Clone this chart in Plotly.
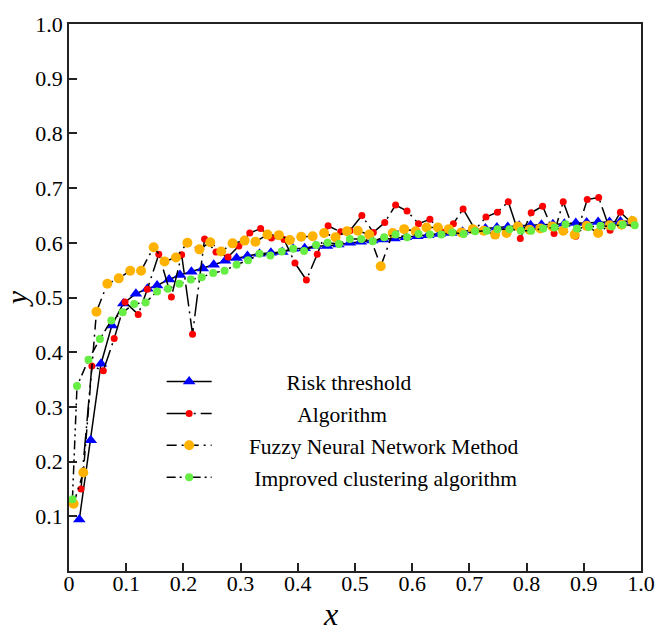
import plotly.graph_objects as go

# ---------------- data ----------------
risk_x = [0.018, 0.038, 0.056, 0.075, 0.095, 0.117, 0.137, 0.154, 0.175, 0.194,
          0.214, 0.234, 0.253, 0.273, 0.293, 0.312, 0.333, 0.353, 0.373, 0.392,
          0.412, 0.431, 0.451, 0.471, 0.491, 0.510, 0.530, 0.549, 0.569, 0.589,
          0.609, 0.628, 0.648, 0.668, 0.688, 0.708, 0.728, 0.748, 0.767, 0.787,
          0.807, 0.826, 0.846, 0.866, 0.886, 0.905, 0.925, 0.945, 0.964, 0.984]
risk_y = [0.094, 0.239, 0.379, 0.449, 0.489, 0.507, 0.516, 0.522, 0.533, 0.541,
          0.547, 0.553, 0.560, 0.567, 0.572, 0.576, 0.580, 0.582, 0.583, 0.589,
          0.590, 0.594, 0.594, 0.597, 0.600, 0.602, 0.604, 0.606, 0.608, 0.610,
          0.612, 0.614, 0.616, 0.618, 0.620, 0.623, 0.626, 0.628, 0.629, 0.631,
          0.632, 0.633, 0.634, 0.635, 0.636, 0.637, 0.638, 0.638, 0.639, 0.640]

algo_x = [0.021, 0.040, 0.060, 0.079, 0.098, 0.121, 0.137, 0.157, 0.179, 0.197,
          0.216, 0.237, 0.257, 0.278, 0.297, 0.316, 0.335, 0.354, 0.376, 0.395,
          0.415, 0.434, 0.453, 0.475, 0.491, 0.512, 0.532, 0.552, 0.571, 0.591,
          0.611, 0.631, 0.651, 0.672, 0.689, 0.710, 0.729, 0.749, 0.768, 0.789,
          0.808, 0.828, 0.848, 0.864, 0.886, 0.906, 0.926, 0.946, 0.964, 0.985]
algo_y = [0.150, 0.375, 0.366, 0.425, 0.492, 0.469, 0.515, 0.579, 0.501, 0.578,
          0.433, 0.607, 0.583, 0.574, 0.594, 0.618, 0.626, 0.609, 0.606, 0.563,
          0.532, 0.579, 0.631, 0.620, 0.622, 0.650, 0.619, 0.637, 0.669, 0.658,
          0.635, 0.643, 0.620, 0.635, 0.662, 0.624, 0.647, 0.656, 0.675, 0.608,
          0.655, 0.667, 0.617, 0.675, 0.612, 0.679, 0.683, 0.623, 0.656, 0.635]

fuzzy_x = [0.008, 0.025, 0.048, 0.067, 0.087, 0.107, 0.126, 0.148, 0.167, 0.187,
           0.207, 0.228, 0.247, 0.266, 0.286, 0.307, 0.326, 0.347, 0.367, 0.386,
           0.406, 0.426, 0.446, 0.466, 0.486, 0.505, 0.525, 0.545, 0.566, 0.586,
           0.606, 0.625, 0.645, 0.664, 0.686, 0.706, 0.725, 0.745, 0.765, 0.785,
           0.805, 0.824, 0.845, 0.864, 0.884, 0.905, 0.925, 0.945, 0.966, 0.985]
fuzzy_y = [0.123, 0.180, 0.474, 0.525, 0.535, 0.549, 0.549, 0.592, 0.566, 0.573,
           0.600, 0.588, 0.601, 0.584, 0.599, 0.604, 0.602, 0.615, 0.614, 0.605,
           0.611, 0.612, 0.618, 0.610, 0.621, 0.622, 0.615, 0.557, 0.618, 0.625,
           0.621, 0.628, 0.628, 0.625, 0.619, 0.625, 0.622, 0.615, 0.618, 0.630,
           0.624, 0.626, 0.630, 0.622, 0.615, 0.631, 0.618, 0.632, 0.633, 0.640]

clus_x = [0.006, 0.014, 0.034, 0.054, 0.074, 0.094, 0.114, 0.134, 0.154, 0.173,
          0.193, 0.213, 0.232, 0.252, 0.272, 0.293, 0.313, 0.333, 0.352, 0.372,
          0.392, 0.411, 0.432, 0.452, 0.472, 0.491, 0.511, 0.531, 0.551, 0.571,
          0.591, 0.611, 0.631, 0.651, 0.670, 0.690, 0.710, 0.730, 0.749, 0.770,
          0.790, 0.808, 0.829, 0.849, 0.868, 0.888, 0.909, 0.929, 0.949, 0.968,
          0.989]
clus_y = [0.131, 0.338, 0.386, 0.424, 0.458, 0.473, 0.488, 0.491, 0.511, 0.516,
          0.525, 0.533, 0.537, 0.545, 0.549, 0.560, 0.568, 0.580, 0.577, 0.584,
          0.589, 0.585, 0.596, 0.600, 0.598, 0.607, 0.607, 0.603, 0.610, 0.615,
          0.610, 0.616, 0.615, 0.615, 0.619, 0.616, 0.621, 0.622, 0.625, 0.625,
          0.622, 0.622, 0.626, 0.628, 0.634, 0.626, 0.629, 0.631, 0.630, 0.633,
          0.632]

series_names = ["Risk threshold", "Algorithm", "Fuzzy Neural Network Method",
                "Improved clustering algorithm"]
x_ticks = [0, 0.1, 0.2, 0.3, 0.4, 0.5, 0.6, 0.7, 0.8, 0.9, 1.0]
x_tick_text = ["0", "0.1", "0.2", "0.3", "0.4", "0.5", "0.6", "0.7", "0.8", "0.9", "1.0"]
y_ticks = [0.1, 0.2, 0.3, 0.4, 0.5, 0.6, 0.7, 0.8, 0.9, 1.0]
y_tick_text = ["0.1", "0.2", "0.3", "0.4", "0.5", "0.6", "0.7", "0.8", "0.9", "1.0"]

NB = "\u00a0"
pads = [13, 15, 6, 7]

SERIF = "Liberation Serif, Times New Roman, serif"

styles = [
    dict(sym="triangle-up", size=11, color="#0000ff", dash="solid"),
    dict(sym="circle", size=7, color="#ff0000", dash="22px,5px,2px,5px"),
    dict(sym="circle", size=10, color="#ffb300", dash="10px,5px,2px,5px"),
    dict(sym="circle", size=8, color="#66ee44", dash="9px,4px,2px,4px,2px,4px"),
]

data = [(risk_x, risk_y), (algo_x, algo_y), (fuzzy_x, fuzzy_y), (clus_x, clus_y)]

fig = go.Figure()
for i, ((xs, ys), st, nm) in enumerate(zip(data, styles, series_names)):
    fig.add_trace(go.Scatter(
        x=xs, y=ys, mode="lines+markers",
        name=NB * pads[i] + nm,
        legendgroup="g%d" % i,
        line=dict(color="black", width=1.5, dash=st["dash"]),
        marker=dict(symbol=st["sym"], size=st["size"], color=st["color"],
                    line=dict(width=0)),
    ))

axis_common = dict(
    showgrid=False, zeroline=False, showline=True, linecolor="#222222",
    linewidth=1.5, mirror=True, ticks="inside", ticklen=8, tickwidth=1.5,
    tickcolor="#222222", tickfont=dict(family=SERIF, size=22, color="black"),
)

fig.update_layout(
    width=667, height=632,
    margin=dict(l=68, r=19, t=17, b=61),
    paper_bgcolor="white", plot_bgcolor="white",
    font=dict(family=SERIF, color="black"),
    xaxis=dict(range=[0, 1.0], tickvals=x_ticks, ticktext=x_tick_text,
               ticklabelstandoff=-8, **axis_common),
    yaxis=dict(range=[0, 1.0], tickvals=y_ticks, ticktext=y_tick_text,
               title=dict(text="<i>y</i>", font=dict(family=SERIF, size=30),
                          standoff=2),
               **axis_common),
    legend=dict(x=0.162, y=0.384, xanchor="left", yanchor="top",
                bgcolor="rgba(0,0,0,0)", borderwidth=0,
                font=dict(family=SERIF, size=21.5, color="black"),
                itemwidth=45, tracegroupgap=1),
    showlegend=True,
    annotations=[dict(text="<i>x</i>", xref="paper", yref="paper",
                      x=0.457, y=-0.078, xanchor="center", yanchor="middle",
                      showarrow=False, font=dict(family=SERIF, size=32, color="black"))],
)

fig.write_html("out.html")
